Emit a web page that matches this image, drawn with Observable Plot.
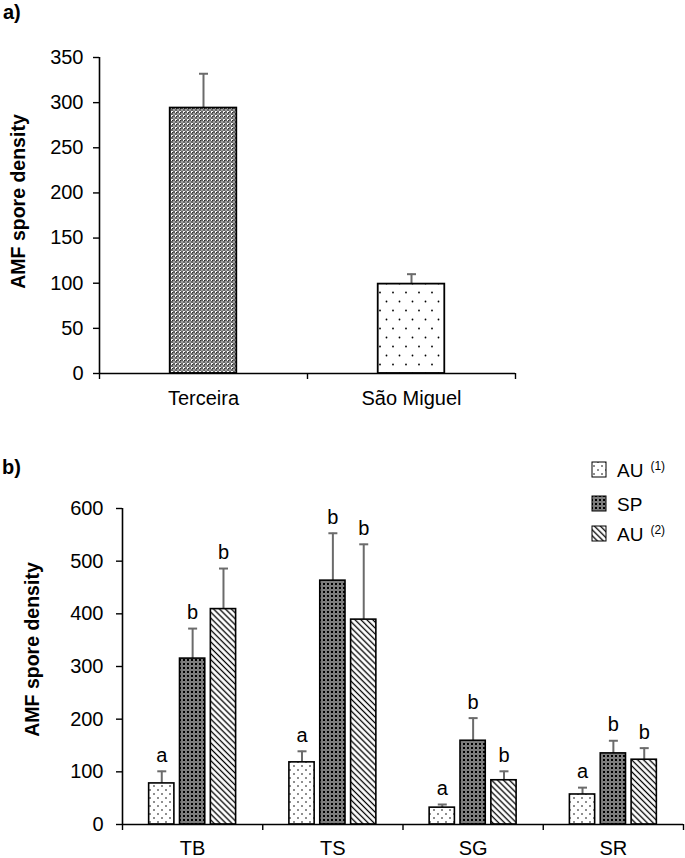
<!DOCTYPE html>
<html><head><meta charset="utf-8">
<script src="https://cdn.jsdelivr.net/npm/d3@7"></script>
<script src="https://cdn.jsdelivr.net/npm/@observablehq/plot@0.6"></script>
<style>
body{margin:0;background:#fff;font-family:"Liberation Sans",Arial,sans-serif;}
#wrap{position:relative;width:685px;height:858px;overflow:hidden;}
.abs{position:absolute;}
.tag{font-weight:bold;font-size:20px;line-height:24px;}
</style></head><body>
<svg width="0" height="0" style="position:absolute">
<defs>
  <pattern id="pDotsA" width="13" height="18" patternUnits="userSpaceOnUse">
    <rect width="13" height="18" fill="#fff"/>
    <circle cx="3" cy="4.5" r="0.9" fill="#000"/>
    <circle cx="9.5" cy="13.5" r="0.9" fill="#000"/>
  </pattern>
  <pattern id="pDotsB" width="8" height="8" patternUnits="userSpaceOnUse">
    <rect width="8" height="8" fill="#fff"/>
    <circle cx="2" cy="2" r="0.8" fill="#000"/>
    <circle cx="6" cy="6" r="0.8" fill="#000"/>
  </pattern>
  <pattern id="pCirc" width="4" height="4" patternUnits="userSpaceOnUse">
    <rect width="4" height="4" fill="#fff"/>
    <circle cx="2" cy="2" r="1.4" fill="none" stroke="#000" stroke-width="0.8"/>
    <rect x="0" y="0" width="0.9" height="0.9" fill="#000"/>
  </pattern>
  <pattern id="pSP" width="4" height="4" patternUnits="userSpaceOnUse">
    <rect width="4" height="4" fill="#000"/>
    <circle cx="2" cy="2" r="1.3" fill="none" stroke="#fff" stroke-width="0.8"/>
  </pattern>
  <pattern id="pStripe" width="4.2" height="4.2" patternUnits="userSpaceOnUse" patternTransform="rotate(45)">
    <rect width="4.2" height="4.2" fill="#fff"/>
    <line x1="0" y1="2.1" x2="4.2" y2="2.1" stroke="#000" stroke-width="1.3"/>
  </pattern>
</defs>
</svg>
<div id="wrap">
  <div id="pa" class="abs" style="left:0;top:0"></div>
  <div id="pb" class="abs" style="left:0;top:440px"></div>
  <div class="abs tag" style="left:3px;top:0px">a)</div>
  <div class="abs tag" style="left:2px;top:455px">b)</div>
  <div id="leg" class="abs" style="left:0;top:0"></div>
</div>
<script>
// ---------- Panel a data ----------
const catsA = ["Terceira", "São Miguel"];
const meanA = [294, 99];
const sdA = [38, 11];
const ticksA = [0, 50, 100, 150, 200, 250, 300, 350];

// ---------- Panel b data ----------
const catsB = ["TB", "TS", "SG", "SR"];
const groupsB = ["AU (1)", "SP", "AU (2)"];
const au1Mean = [78, 118, 32, 57];
const au1Sd = [23, 21, 6, 13];
const au1Let = ["a", "a", "a", "a"];
const spMean = [315, 463, 159, 135];
const spSd = [57, 90, 43, 24];
const spLet = ["b", "b", "b", "b"];
const au2Mean = [409, 389, 84, 123];
const au2Sd = [77, 143, 17, 22];
const au2Let = ["b", "b", "b", "b"];
const ticksB = [0, 100, 200, 300, 400, 500, 600];
const legendNames = ["AU", "SP", "AU"];
const legendSup = ["(1)", "", "(2)"];

const yLabel = "AMF spore density";
const FONT = "Liberation Sans, Arial, sans-serif";
const ERR = "#6b6b6b";
const capSymbol = {draw(ctx, size) { ctx.moveTo(-4.5, 0); ctx.lineTo(4.5, 0); }};

// ---------- Panel a ----------
const rowsA = catsA.map((c, i) => ({i, cat: c, mean: meanA[i], top: meanA[i] + sdA[i]}));
const halfA = 0.16;
const plotA = Plot.plot({
  width: 685, height: 420,
  marginLeft: 99, marginRight: 170, marginTop: 57, marginBottom: 47,
  style: {fontFamily: FONT, color: "#000", background: "transparent"},
  x: {domain: [0, catsA.length], axis: null},
  y: {domain: [0, 350], axis: null},
  color: {type: "ordinal", domain: catsA, range: ["url(#pCirc)", "url(#pDotsA)"]},
  marks: [
    Plot.ruleX(rowsA, {x: d => d.i + 0.5, y1: "mean", y2: "top", stroke: ERR, strokeWidth: 2}),
    Plot.dot(rowsA, {x: d => d.i + 0.5, y: "top", symbol: capSymbol, stroke: ERR, strokeWidth: 2, r: 4}),
    Plot.rect(rowsA, {x1: d => d.i + 0.5 - halfA, x2: d => d.i + 0.5 + halfA, y1: d => 0, y2: "mean",
      fill: "cat", stroke: "#000", strokeWidth: 1.8}),
    Plot.ruleX([0], {strokeWidth: 1.6}),
    Plot.ruleY([0], {strokeWidth: 1.6}),
    Plot.axisY({ticks: ticksA, tickSize: 6, tickPadding: 10, fontSize: 20, label: null, strokeWidth: 1.4}),
    Plot.axisX({ticks: d3.range(catsA.length + 1), tickSize: 6, tickFormat: () => "", label: null, strokeWidth: 1.4}),
    Plot.axisX({ticks: catsA.map((c, i) => i + 0.5), tickSize: 0, tickPadding: 17, fontSize: 20,
      tickFormat: v => catsA[Math.round(v - 0.5)], label: null}),
    Plot.text([yLabel], {frameAnchor: "left", textAnchor: "middle", rotate: -90, dx: -81, dy: -14, fontWeight: "bold", fontSize: 19.5})
  ]
});
document.getElementById("pa").appendChild(plotA);

// ---------- Panel b ----------
const seriesB = [
  {mean: au1Mean, sd: au1Sd, let: au1Let},
  {mean: spMean, sd: spSd, let: spLet},
  {mean: au2Mean, sd: au2Sd, let: au2Let}
];
const rowsB = [];
catsB.forEach((c, i) => {
  seriesB.forEach((s, k) => {
    rowsB.push({i, k, cat: c, group: groupsB[k], mean: s.mean[i], top: s.mean[i] + s.sd[i], letter: s.let[i]});
  });
});
const stepB = 0.22, halfB = 0.09;
const cx = d => d.i + 0.5 + (d.k - 1) * stepB;
const plotB = Plot.plot({
  width: 685, height: 418,
  marginLeft: 122, marginRight: 2, marginTop: 68, marginBottom: 34,
  style: {fontFamily: FONT, color: "#000", background: "transparent"},
  x: {domain: [0, catsB.length], axis: null},
  y: {domain: [0, 600], axis: null},
  color: {type: "ordinal", domain: groupsB, range: ["url(#pDotsB)", "url(#pSP)", "url(#pStripe)"]},
  marks: [
    Plot.ruleX(rowsB, {x: cx, y1: "mean", y2: "top", stroke: ERR, strokeWidth: 2}),
    Plot.dot(rowsB, {x: cx, y: "top", symbol: capSymbol, stroke: ERR, strokeWidth: 2, r: 4}),
    Plot.rect(rowsB, {x1: d => cx(d) - halfB, x2: d => cx(d) + halfB, y1: d => 0, y2: "mean",
      fill: "group", stroke: "#000", strokeWidth: 1.6}),
    Plot.text(rowsB, {x: cx, y: "top", text: "letter", dy: -16, fontSize: 20}),
    Plot.ruleX([0], {strokeWidth: 1.6}),
    Plot.ruleY([0], {strokeWidth: 1.6}),
    Plot.axisY({ticks: ticksB, tickSize: 6, tickPadding: 13, fontSize: 20, label: null, strokeWidth: 1.4}),
    Plot.axisX({ticks: d3.range(catsB.length + 1), tickSize: 6, tickFormat: () => "", label: null, strokeWidth: 1.4}),
    Plot.axisX({ticks: catsB.map((c, i) => i + 0.5), tickSize: 0, tickPadding: 16, fontSize: 20,
      tickFormat: v => catsB[Math.round(v - 0.5)], label: null}),
    Plot.text([yLabel], {frameAnchor: "left", textAnchor: "middle", rotate: -90, dx: -90, dy: -17, fontWeight: "bold", fontSize: 19.5})
  ]
});
document.getElementById("pb").appendChild(plotB);

// ---------- Legend ----------
const legFills = ["url(#pDotsB)", "url(#pSP)", "url(#pStripe)"];
const legTops = [462, 496, 526];
const leg = d3.select("#leg").append("svg").attr("width", 685).attr("height", 858)
  .style("font-family", FONT);
groupsB.forEach((g, k) => {
  const y = legTops[k];
  leg.append("rect").attr("x", 592).attr("y", y).attr("width", 14).attr("height", 15)
    .attr("fill", legFills[k]).attr("stroke", "#000").attr("stroke-width", 1);
  const t = leg.append("text").attr("x", 617).attr("y", y + 14.5).attr("font-size", 19).text(legendNames[k]);
  if (legendSup[k]) t.append("tspan").attr("dx", 7).attr("dy", -7).attr("font-size", 12).text(legendSup[k]);
});
</script>
</body></html>
